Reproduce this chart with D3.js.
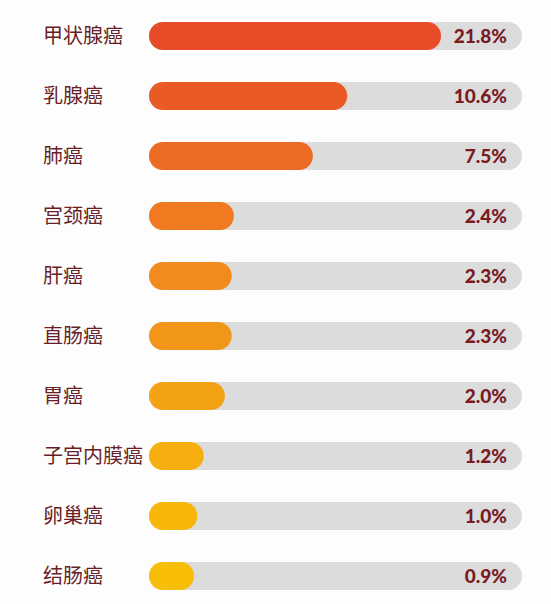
<!DOCTYPE html>
<html><head><meta charset="utf-8">
<script src="https://cdn.jsdelivr.net/npm/d3@7"></script>
<style>html,body{margin:0;padding:0;background:#fdfdfd;}svg{display:block;}</style>
</head><body>
<svg id="chart" width="551" height="604"></svg>
<script>
const categories = ["甲状腺癌","乳腺癌","肺癌","宫颈癌","肝癌","直肠癌","胃癌","子宫内膜癌","卵巢癌","结肠癌"];
const values = [21.8, 10.6, 7.5, 2.4, 2.3, 2.3, 2.0, 1.2, 1.0, 0.9];
const valueLabels = ["21.8%","10.6%","7.5%","2.4%","2.3%","2.3%","2.0%","1.2%","1.0%","0.9%"];
const barColors = ["#e84b27","#ea5a25","#ec6a23","#ef7a20","#f18b1d","#f2961a","#f4a215","#f6ae0e","#f7b60a","#f8bd07"];

const svg = d3.select("#chart");
const barLeft = 149, trackRight = 522, barH = 28;

const y = d3.scaleBand().domain(categories).range([6, 606]).paddingInner(0.5333).paddingOuter(0.2667);
const w = d3.scaleSqrt().domain([0.9, 21.8]).range([45, 292]);

const rows = svg.selectAll("g.row").data(categories).join("g").attr("class","row")
  .attr("transform", d => `translate(0,${y(d) + y.bandwidth()/2})`);

rows.append("rect").attr("x", barLeft).attr("y", -barH/2).attr("width", trackRight - barLeft)
  .attr("height", barH).attr("rx", barH/2).attr("fill", "#dcdcdc");

rows.append("rect").attr("x", barLeft).attr("y", -barH/2)
  .attr("width", (d,i) => w(values[i])).attr("height", barH).attr("rx", barH/2)
  .attr("fill", (d,i) => barColors[i]);

rows.append("text").attr("x", 43).attr("dy", "0.36em")
  .attr("font-family", "'Noto Sans CJK SC', sans-serif").attr("font-size", 20)
  .attr("fill", "#6a1e26").text(d => d);

rows.append("text").attr("x", 507).attr("dy", "0.36em").attr("text-anchor", "end")
  .attr("font-family", "Lato, Roboto, sans-serif").attr("font-weight", 900).attr("font-size", 19)
  .attr("fill", "#7a1b22").text((d,i) => valueLabels[i]);
</script>
</body></html>
